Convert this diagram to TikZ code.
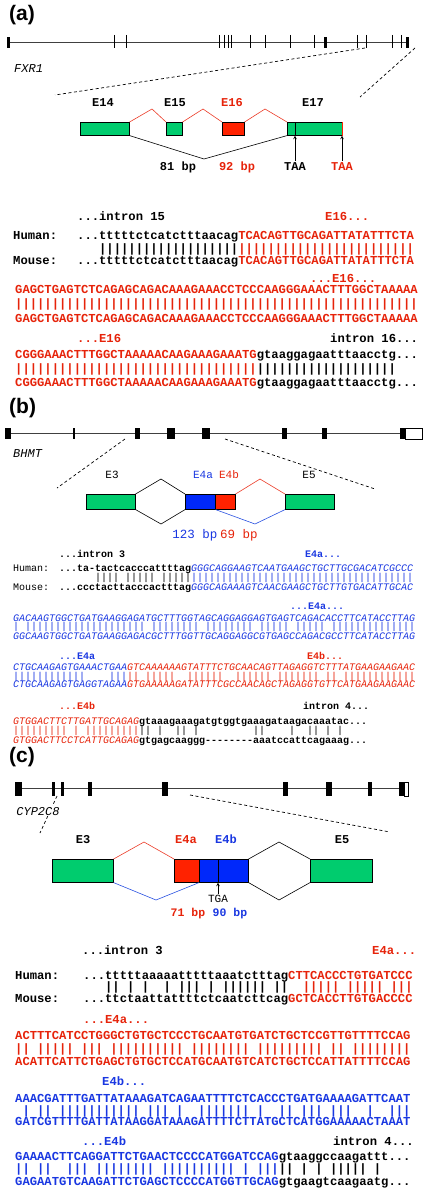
\documentclass[tikz,border=0pt]{standalone}
\usepackage{fontspec}
\setmainfont{Liberation Serif}
\setsansfont{Liberation Sans}
\setmonofont{Liberation Mono}
\usetikzlibrary{positioning, arrows, calc}
\definecolor{exongreen}{RGB}{0,204,110}
\definecolor{exonred}{RGB}{255,34,0}
\definecolor{exonblue}{RGB}{0,40,250}
\definecolor{seqred}{RGB}{230,35,10}
\definecolor{seqblue}{RGB}{25,55,225}
\definecolor{linered}{RGB}{235,60,40}
\definecolor{lineblue}{RGB}{40,80,225}
\newcommand{\seqA}{\ttfamily\bfseries\fontsize{12.2}{14}\selectfont}
\newcommand{\seqB}{\ttfamily\fontsize{10}{12}\selectfont}
\ExplSyntaxOn
\NewDocumentCommand{\seqbar}{m}{\prg_replicate:nn{#1}{|}}
\NewDocumentCommand{\seqgap}{m}{\prg_replicate:nn{#1}{\nobreakspace}}
\NewDocumentCommand{\seqdash}{m}{\prg_replicate:nn{#1}{-\kern0pt}}
\ExplSyntaxOff

\begin{document}
\begin{tikzpicture}[
    x=1pt, y=-1pt,
    exon/.style={draw, line width=0.6pt, inner sep=0pt, anchor=north west},
    exlab/.style={anchor=mid, inner sep=0pt, font=\ttfamily\bfseries\fontsize{12}{14}\selectfont},
    exlabb/.style={anchor=mid, inner sep=0pt, font=\ttfamily\fontsize{11}{13}\selectfont},
    bplab/.style={anchor=mid, inner sep=0pt, font=\ttfamily\fontsize{12.5}{14}\selectfont},
    seqa/.style={anchor=mid west, inner sep=0pt, font=\seqA},
    seqb/.style={anchor=mid west, inner sep=0pt, font=\seqB},
    seqbb/.style={anchor=mid west, inner sep=0pt, font=\seqB\bfseries},
    gname/.style={anchor=mid west, inner sep=1pt, font=\ttfamily\itshape\fontsize{12}{14}\selectfont},
    panel/.style={anchor=mid west, inner sep=0pt, font=\sffamily\bfseries\fontsize{21}{24}\selectfont},
    gene/.style={line width=0.8pt, black!75},
    zoomline/.style={line width=0.7pt, dash pattern=on 3pt off 2.5pt},
    splice/.style={line width=0.6pt},
    arrow/.style={->, >=stealth, line width=0.6pt, shorten <=1pt}
]
    \useasboundingbox (0,0) rectangle (427,1199);

    \node[panel] (apanel) at (9,18) {(a)};
    \draw[gene] (8,42) -- (409,42);
    \foreach \x in {114,126,219,224,228,231,250,265,290,314,357,366,392,401}
        \draw[line width=0.8pt] (\x,35) -- (\x,48);
    \foreach \x in {8,325,407}
        \fill ({\x-1.5},37) rectangle ({\x+1.5},48);
    \node[gname] (aname) at (13,70) {FXR1};
    \coordinate (az1) at (365,48);
    \coordinate (az2) at (55,95);
    \coordinate (az3) at (415,48);
    \coordinate (az4) at (360,97);
    \draw[zoomline] (az1) -- (az2);
    \draw[zoomline] (az3) -- (az4);

    \node[exon, fill=exongreen, minimum width=49pt, minimum height=13pt] (aE14) at (80,122) {};
    \node[exon, fill=exongreen, minimum width=16pt, minimum height=13pt] (aE15) at (166,122) {};
    \node[exon, fill=exonred, minimum width=22pt, minimum height=13pt] (aE16) at (222,122) {};
    \node[exon, fill=exongreen, minimum width=55pt, minimum height=13pt] (aE17) at (287,122) {};
    \draw[line width=0.6pt] ($(aE17.north west)+(8,0)$) -- ($(aE17.south west)+(8,0)$);
    \draw[exonred, line width=0.8pt] (aE17.north east) -- (aE17.south east);
    \node[exlab] (aE14l) at (103,104) {E14};
    \node[exlab] (aE15l) at (175,104) {E15};
    \node[exlab, text=seqred] (aE16l) at (232,104) {E16};
    \node[exlab] (aE17l) at (313,104) {E17};
    \coordinate (ap1) at (152,109);
    \coordinate (ap2) at (203,109);
    \coordinate (ap3) at (265,109);
    \coordinate (ap4) at (204,159);
    \draw[splice, linered] (aE14.north east) -- (ap1) -- (aE15.north west);
    \draw[splice, linered] (aE15.north east) -- (ap2) -- (aE16.north west);
    \draw[splice, linered] (aE16.north east) -- (ap3) -- (aE17.north west);
    \draw[splice] (aE14.south east) -- (ap4) -- (aE17.south west);
    \node[exlab] (a81) at (178,168) {81 bp};
    \node[exlab, text=seqred] (a92) at (237,168) {92 bp};
    \node[exlab] (aTAA1) at (295,168) {TAA};
    \node[exlab, text=seqred] (aTAA2) at (342,168) {TAA};
    \draw[arrow] (aTAA1.north) -- (aTAA1.north |- aE17.south);
    \draw[arrow] (aTAA2.north) -- (aTAA2.north |- aE17.south);

    \node[seqa] (aint15) at (77,218) {...intron 15};
    \node[seqa, text=seqred] (aex16a) at (325,218) {E16...};
    \node[seqa] (ahumlab) at (13,237) {Human:};
    \node[seqa] (ahum1) at (77,237) {...tttttctcatctttaacag{\color{seqred}TCACAGTTGCAGATTATATTTCTA}};
    \node[seqa] (abar1) at (77,250) {~~~\seqbar{19}{\color{seqred}\seqbar{24}}};
    \node[seqa] (amoulab) at (13,262) {Mouse:};
    \node[seqa] (amou1) at (77,262) {...tttttctcatctttaacag{\color{seqred}TCACAGTTGCAGATTATATTTCTA}};
    \node[seqa, text=seqred] (aex16b) at (310,280) {...E16...};
    \node[seqa, text=seqred] (ahum2) at (15,291) {GAGCTGAGTCTCAGAGCAGACAAAGAAACCTCCCAAGGGAAACTTTGGCTAAAAA};
    \node[seqa, text=seqred] (abar2) at (15,305) {\seqbar{55}};
    \node[seqa, text=seqred] (amou2) at (15,320) {GAGCTGAGTCTCAGAGCAGACAAAGAAACCTCCCAAGGGAAACTTTGGCTAAAAA};
    \node[seqa, text=seqred] (aex16c) at (77,340) {...E16};
    \node[seqa] (aint16) at (330,340) {intron 16...};
    \node[seqa] (ahum3) at (15,356) {{\color{seqred}CGGGAAACTTTGGCTAAAAACAAGAAAGAAATG}gtaaggagaatttaacctg...};
    \node[seqa] (abar3) at (15,370) {{\color{seqred}\seqbar{33}}\seqbar{19}};
    \node[seqa] (amou3) at (15,384) {{\color{seqred}CGGGAAACTTTGGCTAAAAACAAGAAAGAAATG}gtaaggagaatttaacctg...};

    \node[panel] (bpanel) at (9,411) {(b)};
    \draw[gene] (5,433) -- (422,433);
    \foreach \a/\b in {5/11,73/75,135/140,167/175,202/210,282/287,322/327,400/405}
        \fill (\a,428) rectangle (\b,439);
    \draw[fill=white, line width=0.6pt] (405,428) rectangle (422,439);
    \node[gname] (bname) at (12,455) {BHMT};
    \coordinate (bz1) at (125,439);
    \coordinate (bz2) at (57,488);
    \coordinate (bz3) at (225,439);
    \coordinate (bz4) at (375,489);
    \draw[zoomline] (bz1) -- (bz2);
    \draw[zoomline] (bz3) -- (bz4);

    \node[exon, fill=exongreen, minimum width=49pt, minimum height=15pt] (bE3) at (86,494) {};
    \node[exon, fill=exonblue, minimum width=30pt, minimum height=15pt] (bE4a) at (185,494) {};
    \node[exon, fill=exonred, minimum width=20pt, minimum height=15pt] (bE4b) at (215,494) {};
    \node[exon, fill=exongreen, minimum width=49pt, minimum height=15pt] (bE5) at (285,494) {};
    \node[exlabb] (bE3l) at (112,476) {E3};
    \node[exlabb, text=seqblue] (bE4al) at (203,476) {E4a};
    \node[exlabb, text=seqred] (bE4bl) at (229,476) {E4b};
    \node[exlabb] (bE5l) at (309,476) {E5};
    \coordinate (bp1) at (161,479);
    \coordinate (bp2) at (161,524);
    \coordinate (bp3) at (260,479);
    \coordinate (bp4) at (255,524);
    \draw[splice] (bE3.north east) -- (bp1) -- (bE4a.north west);
    \draw[splice] (bE3.south east) -- (bp2) -- (bE4a.south west);
    \draw[splice, linered] (bE4b.north east) -- (bp3) -- (bE5.north west);
    \draw[splice, lineblue] (bE4a.south east) -- (bp4) -- (bE5.south west);
    \node[bplab, text=seqblue] (b123) at (195,536) {123 bp};
    \node[bplab, text=seqred] (b69) at (239,536) {69 bp};

    \node[seqbb] (bint3) at (59,555) {...intron 3};
    \node[seqbb, text=seqblue] (bex4a) at (305,555) {E4a...};
    \node[seqb] (bhumlab) at (13,569) {Human:};
    \node[seqb] (bhum1) at (59,569) {{\bfseries ...ta-tactcacccattttag}{\color{seqblue}\itshape GGGCAGGAAGTCAATGAAGCTGCTTGCGACATCGCCC}};
    \node[seqb] (bbar1) at (59,578) {~~~~~~||||~|||||~|||||{\color{seqblue}\seqbar{37}}};
    \node[seqb] (bmoulab) at (13,588) {Mouse:};
    \node[seqb] (bmou1) at (59,588) {{\bfseries ...ccctacttacccactttag}{\color{seqblue}\itshape GGGCAGAAAGTCAACGAAGCTGCTTGTGACATTGCAC}};
    \node[seqbb, text=seqblue] (bex4b) at (290,607) {...E4a...};
    \node[seqb, text=seqblue] (bhum2) at (13,619) {\itshape GACAAGTGGCTGATGAAGGAGATGCTTTGGTAGCAGGAGGAGTGAGTCAGACACCTTCATACCTTAG};
    \node[seqb, text=seqblue] (bbar2) at (13,627) {|~\seqbar{20}~\seqbar{8}~\seqbar{8}~\seqbar{5}~\seqbar{5}~\seqbar{14}};
    \node[seqb, text=seqblue] (bmou2) at (13,637) {\itshape GGCAAGTGGCTGATGAAGGAGACGCTTTGGTTGCAGGAGGCGTGAGCCAGACGCCTTCATACCTTAG};
    \node[seqbb, text=seqblue] (bex4c) at (59,657) {...E4a};
    \node[seqbb, text=seqred] (bex4d) at (307,657) {E4b...};
    \node[seqb] (bhum3) at (13,668) {\itshape{\color{seqblue}CTGCAAGAGTGAAACTGAA}{\color{seqred}GTCAAAAAAGTATTTCTGCAACAGTTAGAGGTCTTTATGAAGAAGAAC}};
    \node[seqb] (bbar3) at (13,677) {{\color{seqblue}\seqbar{12}~~~~|||}{\color{seqred}||~|||||~~||||||~~||||||~|||||||~||~\seqbar{12}}};
    \node[seqb] (bmou3) at (13,685) {\itshape{\color{seqblue}CTGCAAGAGTGAGGTAGAA}{\color{seqred}GTGAAAAAGATATTTCGCCAACAGCTAGAGGTGTTCATGAAGAAGAAC}};
    \node[seqbb, text=seqred] (bex4e) at (59,707) {...E4b};
    \node[seqbb] (bint4) at (303,707) {intron 4...};
    \node[seqb] (bhum4) at (13,722) {{\color{seqred}\itshape GTGGACTTCTTGATTGCAGAG}{\bfseries gtaaagaaagatgtggtgaaagataagacaaatac...}};
    \node[seqb] (bbar4) at (13,731) {{\color{seqred}\seqbar{9}~|~\seqbar{9}}||~|~~||~|\seqgap{9}||~~~~|~~||~|~|};
    \node[seqb] (bmou4) at (13,741) {{\color{seqred}\itshape GTGGACTTCCTCATTGCAGAG}{\bfseries gtgagcaaggg\seqdash{8}aaatccattcagaaag...}};

    \node[panel] (cpanel) at (9,760) {(c)};
    \draw[gene] (15,788) -- (408,788);
    \foreach \a/\b in {15/22,52/55,61/64,88/92,162/168,283/288,326/332,368/372,399/404}
        \fill (\a,782) rectangle (\b,796);
    \draw[fill=white, line width=0.6pt] (404,782) rectangle (408,796);
    \coordinate (cz1) at (57,796);
    \coordinate (cz2) at (40,833);
    \coordinate (cz3) at (190,795);
    \coordinate (cz4) at (390,832);
    \draw[zoomline] (cz1) -- (cz2);
    \draw[zoomline] (cz3) -- (cz4);
    \node[gname, anchor=mid, fill=white] (cname) at (38,813) {CYP2C8};

    \node[exon, fill=exongreen, minimum width=61pt, minimum height=23pt] (cE3) at (52,859) {};
    \node[exon, fill=exonred, minimum width=25pt, minimum height=23pt] (cE4a) at (174,859) {};
    \node[exon, fill=exonblue, minimum width=49pt, minimum height=23pt] (cE4b) at (199,859) {};
    \node[exon, fill=exongreen, minimum width=62pt, minimum height=23pt] (cE5) at (310,859) {};
    \draw[line width=0.6pt] ($(cE4b.north west)+(19,0)$) -- ($(cE4b.south west)+(19,0)$);
    \node[exlab] (cE3l) at (83,841) {E3};
    \node[exlab, text=seqred] (cE4al) at (186,841) {E4a};
    \node[exlab, text=seqblue] (cE4bl) at (226,841) {E4b};
    \node[exlab] (cE5l) at (342,841) {E5};
    \coordinate (cp1) at (144,842);
    \coordinate (cp2) at (156,900);
    \coordinate (cp3) at (279,842);
    \coordinate (cp4) at (279,900);
    \draw[splice, linered] (cE3.north east) -- (cp1) -- (cE4a.north west);
    \draw[splice, lineblue] (cE3.south east) -- (cp2) -- (cE4b.south west);
    \draw[splice] (cE4b.north east) -- (cp3) -- (cE5.north west);
    \draw[splice] (cE4b.south east) -- (cp4) -- (cE5.south west);
    \node[exlabb] (cTGA) at (218,900) {TGA};
    \draw[arrow] (cTGA.north) -- (cTGA.north |- cE4b.south);
    \node[exlab, text=seqred, font=\ttfamily\bfseries\fontsize{11.5}{13}\selectfont] (c71) at (188,914) {71 bp};
    \node[exlab, text=seqblue, font=\ttfamily\bfseries\fontsize{11.5}{13}\selectfont] (c90) at (230,914) {90 bp};

    \node[seqa] (cint3) at (82,952) {...intron 3};
    \node[seqa, text=seqred] (cex4a) at (372,952) {E4a...};
    \node[seqa] (chumlab) at (15,977) {Human:};
    \node[seqa] (chum1) at (83,977) {...tttttaaaaatttttaaatctttag{\color{seqred}CTTCACCCTGTGATCCC}};
    \node[seqa] (cbar1) at (83,988) {~~~||~|~|~~|~|||~|~||||||~||{\color{seqred}~~|||||~|||||~|||}};
    \node[seqa] (cmoulab) at (15,1000) {Mouse:};
    \node[seqa] (cmou1) at (83,1000) {...ttctaattattttctcaatcttcag{\color{seqred}GCTCACCTTGTGACCCC}};
    \node[seqa, text=seqred] (cex4b) at (83,1021) {...E4a...};
    \node[seqa, text=seqred] (chum2) at (15,1037) {ACTTTCATCCTGGGCTGTGCTCCCTGCAATGTGATCTGCTCCGTTGTTTTCCAG};
    \node[seqa, text=seqred] (cbar2) at (15,1050) {||~|||||~|||~\seqbar{10}~\seqbar{8}~\seqbar{9}~||~\seqbar{8}};
    \node[seqa, text=seqred] (cmou2) at (15,1063) {ACATTCATTCTGAGCTGTGCTCCATGCAATGTCATCTGCTCCATTATTTTCCAG};
    \node[seqa, text=seqblue] (cex4c) at (102,1083) {E4b...};
    \node[seqa, text=seqblue] (chum3) at (15,1100) {AAACGATTTGATTATAAAGATCAGAATTTTCTCACCCTGATGAAAAGATTCAAT};
    \node[seqa, text=seqblue] (cbar3) at (15,1112) {~|~||~\seqbar{11}~|||~|~~\seqbar{7}~|~~||~|||~|||~~|~~|||};
    \node[seqa, text=seqblue] (cmou3) at (15,1123) {GATCGTTTTGATTATAAGGATAAAGATTTTCTTATGCTCATGGAAAAACTAAAT};
    \node[seqa, text=seqblue] (cex4d) at (82,1143) {...E4b};
    \node[seqa] (cint4) at (333,1143) {intron 4...};
    \node[seqa] (chum4) at (15,1158) {{\color{seqblue}GAAAACTTCAGGATTCTGAACTCCCCATGGATCCAG}gtaaggccaagattt...};
    \node[seqa] (cbar4) at (15,1170) {{\color{seqblue}||~||~~|||~\seqbar{8}~\seqbar{10}~|~|||}||~|~|~|||||~|};
    \node[seqa] (cmou4) at (15,1183) {{\color{seqblue}GAGAATGTCAAGATTCTGAGCTCCCCATGGTTGCAG}gtgaagtcaagaatg...};
\end{tikzpicture}
\end{document}
